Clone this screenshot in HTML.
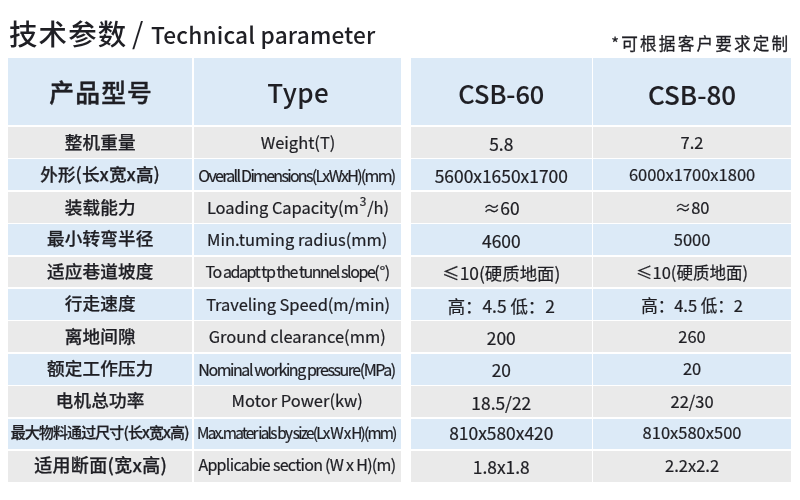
<!DOCTYPE html>
<html><head><meta charset="utf-8"><title>技术参数 / Technical parameter</title>
<style>
html,body{margin:0;padding:0;background:#fff;}
body{width:800px;height:500px;position:relative;overflow:hidden;font-family:"Noto Sans CJK SC", "Liberation Sans", sans-serif;color:#1f1f24;}
.c{position:absolute;display:flex;align-items:center;justify-content:center;white-space:nowrap;}
.t{position:relative;display:block;line-height:1;}
.k1 .t,.k2 .t,.k3 .t{-webkit-text-stroke:0.22px currentColor;}
.k0 .t{-webkit-text-stroke:0.25px currentColor;}
sup{font-size:0.72em;vertical-align:0.62em;line-height:0;margin:0 0.08em;}
.a{position:absolute;white-space:nowrap;line-height:1;}
</style></head><body>
<div class="a" style="left:9px;top:18.6px;font-size:28.4px;font-weight:500;letter-spacing:1.2px">技术参数</div>
<div class="a" style="left:132px;top:16.7px;font-size:29px">/</div>
<div class="a" style="left:151px;top:23.6px;font-size:22.7px;font-weight:500;letter-spacing:0.17px">Technical parameter</div>
<div class="a" style="right:9.6px;top:34.5px;font-size:16.6px;font-weight:400;-webkit-text-stroke:0.3px currentColor;letter-spacing:2.2px">*可根据客户要求定制</div>
<div class="c" style="left:8px;top:57.8px;width:184.2px;height:66.8px;background:#dceaf7"><span class="t" style="font-size:24.8px;font-weight:500;letter-spacing:1.1px;top:0px;left:1.05px;-webkit-text-stroke:0.4px currentColor">产品型号</span></div>
<div class="c" style="left:193.8px;top:57.8px;width:206.9px;height:66.8px;background:#dceaf7"><span class="t" style="font-size:26px;font-weight:500;letter-spacing:0.45px;top:1.2px;left:1.025px;-webkit-text-stroke:0px currentColor">Type</span></div>
<div class="c" style="left:410.6px;top:57.8px;width:181.4px;height:66.8px;background:#dceaf7"><span class="t" style="font-size:25.4px;font-weight:500;letter-spacing:0px;top:2.8px;left:0px;-webkit-text-stroke:0.15px currentColor">CSB-60</span></div>
<div class="c" style="left:593.1px;top:57.8px;width:197.9px;height:66.8px;background:#dceaf7"><span class="t" style="font-size:26px;font-weight:500;letter-spacing:0px;top:2.8px;left:0px;-webkit-text-stroke:0.15px currentColor">CSB-80</span></div>
<div class="c k0" style="left:8px;top:126.90px;width:184.2px;height:30.82px;background:#eaeaea"><span class="t" style="font-size:17.6px;font-weight:500;letter-spacing:0.15px;top:-0.8px;left:0.07px">整机重量</span></div>
<div class="c k1" style="left:193.8px;top:126.90px;width:206.9px;height:30.82px;background:#eaeaea"><span class="t" style="font-size:16.5px;font-weight:400;letter-spacing:0px;top:-0.2px;left:0.8px">Weight(T)</span></div>
<div class="c k2" style="left:410.6px;top:126.90px;width:181.4px;height:30.82px;background:#eaeaea"><span class="t" style="font-size:17.4px;font-weight:400;letter-spacing:0px;top:1.3px;left:0px">5.8</span></div>
<div class="c k3" style="left:593.1px;top:126.90px;width:197.9px;height:30.82px;background:#eaeaea"><span class="t" style="font-size:16.5px;font-weight:400;letter-spacing:0px;top:-0.2px;left:0px">7.2</span></div>
<div class="c k0" style="left:8px;top:159.32px;width:184.2px;height:30.82px;background:#dceaf7"><span class="t" style="font-size:17.6px;font-weight:500;letter-spacing:0.07px;top:-0.8px;left:0.04px">外形(长x宽x高)</span></div>
<div class="c k1" style="left:193.8px;top:159.32px;width:206.9px;height:30.82px;background:#dceaf7"><span class="t" style="font-size:16px;font-weight:400;letter-spacing:-1.71px;top:0.3px;left:-0.85px">Overall Dimensions(LxWxH)(mm)</span></div>
<div class="c k2" style="left:410.6px;top:159.32px;width:181.4px;height:30.82px;background:#dceaf7"><span class="t" style="font-size:17.4px;font-weight:400;letter-spacing:0px;top:1.3px;left:0px">5600x1650x1700</span></div>
<div class="c k3" style="left:593.1px;top:159.32px;width:197.9px;height:30.82px;background:#dceaf7"><span class="t" style="font-size:16.5px;font-weight:400;letter-spacing:0px;top:-0.4px;left:0px">6000x1700x1800</span></div>
<div class="c k0" style="left:8px;top:191.74px;width:184.2px;height:30.82px;background:#eaeaea"><span class="t" style="font-size:17.6px;font-weight:500;letter-spacing:0.15px;top:-0.8px;left:0.07px">装载能力</span></div>
<div class="c k1" style="left:193.8px;top:191.74px;width:206.9px;height:30.82px;background:#eaeaea"><span class="t" style="font-size:16.5px;font-weight:400;letter-spacing:-0.08px;top:-0.2px;left:0.76px">Loading Capacity(m<sup>3</sup>/h)</span></div>
<div class="c k2" style="left:410.6px;top:191.74px;width:181.4px;height:30.82px;background:#eaeaea"><span class="t" style="font-size:17.4px;font-weight:400;letter-spacing:0px;top:0.9px;left:0px">≈60</span></div>
<div class="c k3" style="left:593.1px;top:191.74px;width:197.9px;height:30.82px;background:#eaeaea"><span class="t" style="font-size:16.5px;font-weight:400;letter-spacing:0px;top:-0.2px;left:0px">≈80</span></div>
<div class="c k0" style="left:8px;top:224.16px;width:184.2px;height:30.82px;background:#dceaf7"><span class="t" style="font-size:17.6px;font-weight:500;letter-spacing:0.15px;top:-1.3px;left:0.07px">最小转弯半径</span></div>
<div class="c k1" style="left:193.8px;top:224.16px;width:206.9px;height:30.82px;background:#dceaf7"><span class="t" style="font-size:16.5px;font-weight:400;letter-spacing:0px;top:-0.7px;left:0px">Min.tuming radius(mm)</span></div>
<div class="c k2" style="left:410.6px;top:224.16px;width:181.4px;height:30.82px;background:#dceaf7"><span class="t" style="font-size:17.4px;font-weight:400;letter-spacing:0px;top:1.3px;left:0px">4600</span></div>
<div class="c k3" style="left:593.1px;top:224.16px;width:197.9px;height:30.82px;background:#dceaf7"><span class="t" style="font-size:16.5px;font-weight:400;letter-spacing:0px;top:0px;left:0px">5000</span></div>
<div class="c k0" style="left:8px;top:256.58px;width:184.2px;height:30.82px;background:#eaeaea"><span class="t" style="font-size:17.6px;font-weight:500;letter-spacing:0.15px;top:-1.3px;left:0.07px">适应巷道坡度</span></div>
<div class="c k1" style="left:193.8px;top:256.58px;width:206.9px;height:30.82px;background:#eaeaea"><span class="t" style="font-size:16px;font-weight:400;letter-spacing:-1.45px;top:-0.5px;left:-0.12px">To adapt tp the tunnel slope(<span style="margin:0 0.8px 0 1.2px">°</span>)</span></div>
<div class="c k2" style="left:410.6px;top:256.58px;width:181.4px;height:30.82px;background:#eaeaea"><span class="t" style="font-size:17.4px;font-weight:400;letter-spacing:0px;top:0.8px;left:0px">≤10(硬质地面)</span></div>
<div class="c k3" style="left:593.1px;top:256.58px;width:197.9px;height:30.82px;background:#eaeaea"><span class="t" style="font-size:16.5px;font-weight:400;letter-spacing:0px;top:0.1px;left:0px">≤10(硬质地面)</span></div>
<div class="c k0" style="left:8px;top:289.00px;width:184.2px;height:30.82px;background:#dceaf7"><span class="t" style="font-size:17.6px;font-weight:500;letter-spacing:0.15px;top:-1.6px;left:0.07px">行走速度</span></div>
<div class="c k1" style="left:193.8px;top:289.00px;width:206.9px;height:30.82px;background:#dceaf7"><span class="t" style="font-size:16.5px;font-weight:400;letter-spacing:-0.08px;top:-0.5px;left:0.86px">Traveling Speed(m/min)</span></div>
<div class="c k2" style="left:410.6px;top:289.00px;width:181.4px;height:30.82px;background:#dceaf7"><span class="t" style="font-size:17.4px;font-weight:400;letter-spacing:0px;top:1.3px;left:0px">高：4.5 低：2</span></div>
<div class="c k3" style="left:593.1px;top:289.00px;width:197.9px;height:30.82px;background:#dceaf7"><span class="t" style="font-size:16.5px;font-weight:400;letter-spacing:0px;top:0.6px;left:0px">高：4.5 低：2</span></div>
<div class="c k0" style="left:8px;top:321.42px;width:184.2px;height:30.82px;background:#eaeaea"><span class="t" style="font-size:17.6px;font-weight:500;letter-spacing:0.15px;top:-1.3px;left:0.07px">离地间隙</span></div>
<div class="c k1" style="left:193.8px;top:321.42px;width:206.9px;height:30.82px;background:#eaeaea"><span class="t" style="font-size:16.5px;font-weight:400;letter-spacing:0px;top:-1px;left:0px">Ground clearance(mm)</span></div>
<div class="c k2" style="left:410.6px;top:321.42px;width:181.4px;height:30.82px;background:#eaeaea"><span class="t" style="font-size:17.4px;font-weight:400;letter-spacing:0px;top:1px;left:0px">200</span></div>
<div class="c k3" style="left:593.1px;top:321.42px;width:197.9px;height:30.82px;background:#eaeaea"><span class="t" style="font-size:16.5px;font-weight:400;letter-spacing:0px;top:-0.6px;left:0px">260</span></div>
<div class="c k0" style="left:8px;top:353.84px;width:184.2px;height:30.82px;background:#dceaf7"><span class="t" style="font-size:17.6px;font-weight:500;letter-spacing:0.15px;top:-1.8px;left:0.07px">额定工作压力</span></div>
<div class="c k1" style="left:193.8px;top:353.84px;width:206.9px;height:30.82px;background:#dceaf7"><span class="t" style="font-size:16px;font-weight:400;letter-spacing:-1.44px;top:-0.7px;left:-0.72px">Nominal working pressure(MPa)</span></div>
<div class="c k2" style="left:410.6px;top:353.84px;width:181.4px;height:30.82px;background:#dceaf7"><span class="t" style="font-size:17.4px;font-weight:400;letter-spacing:0px;top:0.3px;left:0px">20</span></div>
<div class="c k3" style="left:593.1px;top:353.84px;width:197.9px;height:30.82px;background:#dceaf7"><span class="t" style="font-size:16.5px;font-weight:400;letter-spacing:0px;top:-1.2px;left:0px">20</span></div>
<div class="c k0" style="left:8px;top:386.26px;width:184.2px;height:30.82px;background:#eaeaea"><span class="t" style="font-size:17.6px;font-weight:500;letter-spacing:0.15px;top:-1.8px;left:0.07px">电机总功率</span></div>
<div class="c k1" style="left:193.8px;top:386.26px;width:206.9px;height:30.82px;background:#eaeaea"><span class="t" style="font-size:16.5px;font-weight:400;letter-spacing:0px;top:-1.2px;left:0px">Motor Power(kw)</span></div>
<div class="c k2" style="left:410.6px;top:386.26px;width:181.4px;height:30.82px;background:#eaeaea"><span class="t" style="font-size:17.4px;font-weight:400;letter-spacing:0px;top:0.7px;left:0px">18.5/22</span></div>
<div class="c k3" style="left:593.1px;top:386.26px;width:197.9px;height:30.82px;background:#eaeaea"><span class="t" style="font-size:16.5px;font-weight:400;letter-spacing:0px;top:-0.5px;left:0px">22/30</span></div>
<div class="c k0" style="left:8px;top:418.68px;width:184.2px;height:30.82px;background:#dceaf7"><span class="t" style="font-size:15px;font-weight:500;letter-spacing:-0.9px;top:-2.8px;left:-0.45px">最大物料通过尺寸(长x宽x高)</span></div>
<div class="c k1" style="left:193.8px;top:418.68px;width:206.9px;height:30.82px;background:#dceaf7"><span class="t" style="font-size:15.3px;font-weight:400;letter-spacing:-1.75px;top:-1.8px;left:-0.88px">Max.mater ials by size(Lx W x H)(mm)</span></div>
<div class="c k2" style="left:410.6px;top:418.68px;width:181.4px;height:30.82px;background:#dceaf7"><span class="t" style="font-size:17.4px;font-weight:400;letter-spacing:0px;top:-0.9px;left:0px">810x580x420</span></div>
<div class="c k3" style="left:593.1px;top:418.68px;width:197.9px;height:30.82px;background:#dceaf7"><span class="t" style="font-size:16.5px;font-weight:400;letter-spacing:0px;top:-1.5px;left:0px">810x580x500</span></div>
<div class="c k0" style="left:8px;top:451.10px;width:184.2px;height:31.10px;background:#eaeaea"><span class="t" style="font-size:18px;font-weight:500;letter-spacing:0.3px;top:-3px;left:0.65px">适用断面(宽x高)</span></div>
<div class="c k1" style="left:193.8px;top:451.10px;width:206.9px;height:31.10px;background:#eaeaea"><span class="t" style="font-size:16px;font-weight:400;letter-spacing:-0.7px;top:-2.4px;left:-0.35px">Applicabie section (W x H)(m)</span></div>
<div class="c k2" style="left:410.6px;top:451.10px;width:181.4px;height:31.10px;background:#eaeaea"><span class="t" style="font-size:17.4px;font-weight:400;letter-spacing:0px;top:0.4px;left:0px">1.8x1.8</span></div>
<div class="c k3" style="left:593.1px;top:451.10px;width:197.9px;height:31.10px;background:#eaeaea"><span class="t" style="font-size:16.5px;font-weight:400;letter-spacing:0px;top:-1.3px;left:0px">2.2x2.2</span></div>
</body></html>
